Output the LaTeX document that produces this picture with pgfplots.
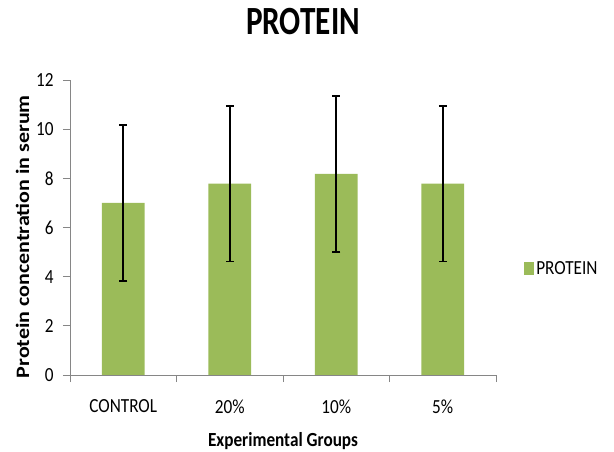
\documentclass[border=0pt]{standalone}
\usepackage{fontspec}
\setmainfont{Carlito}[FakeStretch=0.86]
\newfontfamily\ylabfont{Carlito}
\newfontfamily\titlefont{Carlito}[FakeStretch=0.78]
\usepackage{graphicx}
\usepackage{pgfplots}
\pgfplotsset{compat=1.18}
\definecolor{bargreen}{RGB}{155,187,89}
\definecolor{axgray}{RGB}{134,134,134}
\pgfplotstableread{
x y err
0 7.00 3.18
1 7.78 3.16
2 8.18 3.17
3 7.78 3.16
}\proteindata
\begin{document}
\begin{tikzpicture}
\path[use as bounding box] (0,0) rectangle (614bp,452bp);
\begin{axis}[
  at={(70bp,77bp)}, anchor=south west,
  scale only axis, width=426bp, height=295bp,
  xmin=-0.5, xmax=3.5, ymin=0, ymax=12,
  ytick={0,2,...,12},
  xtick={-0.5,0.5,1.5,2.5,3.5},
  xticklabels={},
  extra x ticks={0,1,2,3},
  extra x tick labels={CONTROL,20\%,10\%,5\%},
  extra x tick style={major tick length=0pt},
  axis x line*=bottom, axis y line*=left,
  axis line style={axgray, line width=0.8bp, -},
  tick align=outside,
  major tick length=7bp,
  every tick/.style={axgray, line width=0.8bp},
  /pgf/number format/assume math mode=true,
  tick label style={font=\fontsize{20bp}{24bp}\selectfont, black},
  xticklabel style={yshift=-21bp},
  yticklabel style={xshift=-6bp},
  title={\titlefont\fontsize{40bp}{48bp}\selectfont\bfseries PROTEIN},
  title style={at={(rel axis cs:0.547,1.1356)}, anchor=base, inner sep=0pt},
  xlabel={\fontsize{20bp}{24bp}\selectfont\bfseries Experimental Groups},
  xlabel style={at={(rel axis cs:0.5,-0.244)}, anchor=base, inner sep=0pt},
  ylabel={\scalebox{1}[0.86]{\ylabfont\fontsize{22bp}{26bp}\selectfont\bfseries Protein concentration in serum}},
  ylabel style={at={(rel axis cs:-0.096,0.469)}, anchor=base, rotate=0, inner sep=0pt},
  legend style={at={(rel axis cs:1.066,0.36)}, anchor=west, draw=none, fill=none,
    inner sep=0pt, font=\fontsize{20bp}{24bp}\selectfont},
  legend cell align=left,
  legend image code/.code={\fill[bargreen] (0bp,-6.5bp) rectangle (10bp,6.5bp);},
]
\addplot[ybar, bar width=0.4, fill=bargreen, draw=none,
  error bars/.cd, y dir=both, y explicit,
  error bar style={black, line width=1.6bp},
  error mark options={rotate=90, mark size=4bp, line width=1.6bp, black}]
  table[x=x, y=y, y error=err] {\proteindata};
\addlegendentry{PROTEIN}
\end{axis}
\end{tikzpicture}
\end{document}
